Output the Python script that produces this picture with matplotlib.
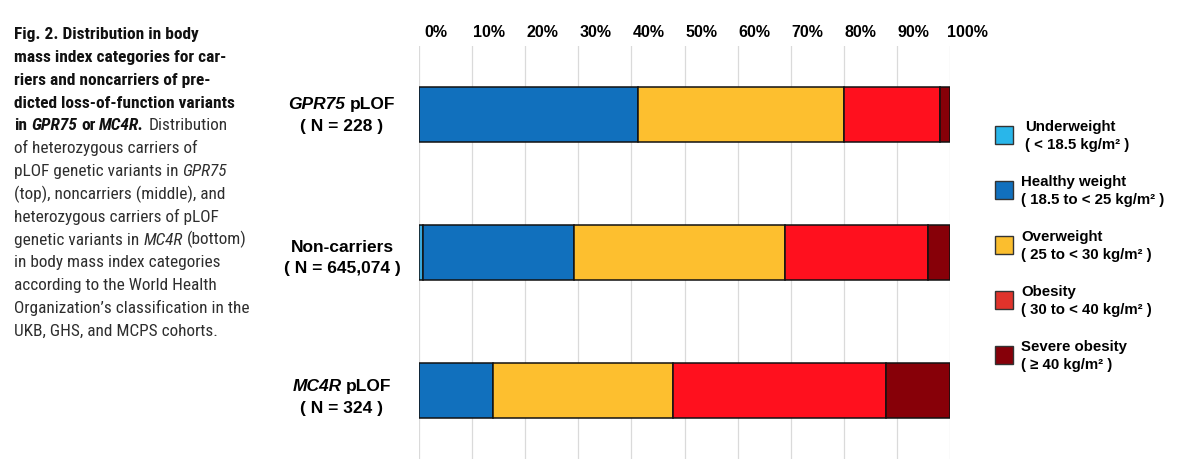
import matplotlib
matplotlib.use("Agg")
import matplotlib.pyplot as plt
from matplotlib import font_manager
from matplotlib.patches import Rectangle
from matplotlib.transforms import ScaledTranslation

# ---------------- data ----------------
group_names = [[("GPR75", "bold", "italic"), (" pLOF", "bold", "normal")],
               [("Non-carriers", "bold", "normal")],
               [("MC4R", "bold", "italic"), (" pLOF", "bold", "normal")]]
group_n = ["228", "645,074", "324"]
categories = ["Underweight", "Healthy weight", "Overweight", "Obesity", "Severe obesity"]
category_ranges = ["( < 18.5 kg/m\u00b2 )", "( 18.5 to < 25 kg/m\u00b2 )", "( 25 to < 30 kg/m\u00b2 )",
                   "( 30 to < 40 kg/m\u00b2 )", "( \u2265 40 kg/m\u00b2 )"]
underweight = [0.0, 0.8, 0.0]
healthy = [41.3, 28.4, 14.0]
overweight = [38.7, 39.7, 33.9]
obesity = [18.1, 26.9, 40.1]
severe = [1.9, 4.2, 12.0]
series = [underweight, healthy, overweight, obesity, severe]
x_ticks = [0, 10, 20, 30, 40, 50, 60, 70, 80, 90, 100]
x_tick_labels = [f"{v}%" for v in x_ticks]

bar_colors = ["#3aa8dc", "#1170bd", "#fdbf2f", "#ff101e", "#870008"]
legend_colors = ["#29b6ea", "#1170be", "#fbbe2e", "#e0332b", "#860009"]

# ---------------- fonts ----------------
names = {f.name for f in font_manager.fontManager.ttflist}
cap_family = "Liberation Sans"
for cand in ["Liberation Sans Narrow", "Roboto Condensed", "Open Sans Condensed", "DejaVu Sans Condensed"]:
    if cand in names:
        cap_family = cand
        break
main_family = "Liberation Sans" if "Liberation Sans" in names else "DejaVu Sans"

W, H = 1200, 467
fig = plt.figure(figsize=(W / 100, H / 100), dpi=100)
renderer = fig.canvas.get_renderer()


def fx(px):
    return px / W


def fy(py):
    return 1 - py / H


def measure(s, **kw):
    t = fig.text(0, 0, s, **kw)
    w = t.get_window_extent(renderer).width
    t.remove()
    return w


def rich(pieces, x, y, ha="left", va="baseline", family=main_family, size=12):
    """pieces: list of (text, weight, style[, color]) drawn in pixel coords (from top)."""
    items = []
    total = 0.0
    for p in pieces:
        txt, weight, style = p[0], p[1], p[2]
        col = p[3] if len(p) > 3 else "black"
        sz = p[4] if len(p) > 4 else size
        kw = dict(family=family, size=sz, weight=weight, style=style)
        sp = measure("a a", **kw) - measure("aa", **kw)
        lead = len(txt) - len(txt.lstrip(" "))
        trail = len(txt) - len(txt.rstrip(" "))
        core = txt.strip(" ")
        wc = measure(core, **kw) if core else 0.0
        items.append((core, kw, col, lead * sp, wc, trail * sp))
        total += lead * sp + wc + trail * sp
    x0 = x - total / 2 if ha == "center" else x
    cur = x0
    for core, kw, col, l, wc, tr in items:
        cur += l
        if core:
            fig.text(fx(cur), fy(y), core, ha="left", va=va, color=col, **kw)
        cur += wc + tr
    return total


# ---------------- caption ----------------
B, R = "#111111", "#2e2e2e"
caption = [
    [("Fig. 2. Distribution in body", "bold", "normal", B)],
    [("mass index categories for car-", "bold", "normal", B)],
    [("riers and noncarriers of pre-", "bold", "normal", B)],
    [("dicted loss-of-function variants", "bold", "normal", B)],
    [("in ", "bold", "normal", B), ("GPR75", "bold", "italic", B), (" or ", "bold", "normal", B),
     ("MC4R.", "bold", "italic", B), (" Distribution", "normal", "normal", R)],
    [("of heterozygous carriers of", "normal", "normal", R)],
    [("pLOF genetic variants in ", "normal", "normal", R), ("GPR75", "normal", "italic", R)],
    [("(top), noncarriers (middle), and", "normal", "normal", R)],
    [("heterozygous carriers of pLOF", "normal", "normal", R)],
    [("genetic variants in ", "normal", "normal", R), ("MC4R", "normal", "italic", R),
     (" (bottom)", "normal", "normal", R)],
    [("in body mass index categories", "normal", "normal", R)],
    [("according to the World Health", "normal", "normal", R)],
    [("Organization\u2019s classification in the", "normal", "normal", R)],
    [("UKB, GHS, and MCPS cohorts.", "normal", "normal", R)],
]
w_ref = measure("dicted loss-of-function variants", family=cap_family, size=12, weight="bold")
cap_size = min(12.5, 12 * 233.0 / w_ref)
w_reg = measure("Organization\u2019s classification in the", family=cap_family, size=12)
reg_size = min(12.5, 12 * 234.0 / w_reg)
for i, line in enumerate(caption):
    line = [p + ((cap_size if p[1] == "bold" else reg_size),) for p in line]
    rich(line, 14, 39 + 22.85 * i, family=cap_family, size=cap_size)

# ---------------- chart ----------------
ax = fig.add_axes([fx(419), fy(459), fx(950) - fx(419), (459 - 46) / H])
y_pos = list(range(len(group_n)))
left = [0.0] * len(y_pos)
for vals, col in zip(series, bar_colors):
    ax.barh(y_pos, vals, left=left, height=0.4, color=col, edgecolor="#111111", linewidth=1.1, zorder=3)
    left = [l + v for l, v in zip(left, vals)]

ax.set_xlim(0, 100)
ax.set_ylim(2.5, -0.5)
ax.set_xticks(x_ticks)
ax.set_xticklabels(x_tick_labels, fontfamily=main_family, fontweight="bold", fontsize=11.5)
ax.xaxis.tick_top()
ax.tick_params(axis="x", length=0, pad=4)
ax.set_yticks([])
for s in ax.spines.values():
    s.set_visible(False)
ax.grid(axis="x", color="#dadada", linewidth=0.9, zorder=0)
ax.set_axisbelow(True)
off = ScaledTranslation(0.17, 0, fig.dpi_scale_trans)
for lab in ax.get_xticklabels():
    lab.set_transform(lab.get_transform() + off)

# group labels (two lines, centred left of the bars)
line1_dy = [-10, -5, -4]
line2_dy = [12, 16, 18]
for i, (nm, n) in enumerate(zip(group_names, group_n)):
    yc = H - ax.transData.transform((0, y_pos[i]))[1]
    rich([(p[0], p[1], p[2]) for p in nm], 342, yc + line1_dy[i], ha="center", va="center",
         family=main_family, size=12.5)
    rich([(f"( N = {n} )", "bold", "normal")], 342, yc + line2_dy[i], ha="center", va="center",
         family=main_family, size=12.5)

# ---------------- legend ----------------
for i, (cat, rng, col) in enumerate(zip(categories, category_ranges, legend_colors)):
    ptop = 126 + 55 * i
    fig.patches.append(Rectangle((fx(995), fy(ptop + 18)), 18 / W, 18 / H, transform=fig.transFigure,
                                 facecolor=col, edgecolor="#333333", linewidth=1.0))
    tx = 1025 if i == 0 else 1021
    fig.text(fx(tx), fy(ptop + 1), cat, family=main_family, weight="bold", size=10.8, va="center")
    fig.text(fx(tx), fy(ptop + 19), rng, family=main_family, weight="bold", size=10.8, va="center")

fig.savefig("out.png", dpi=100)
